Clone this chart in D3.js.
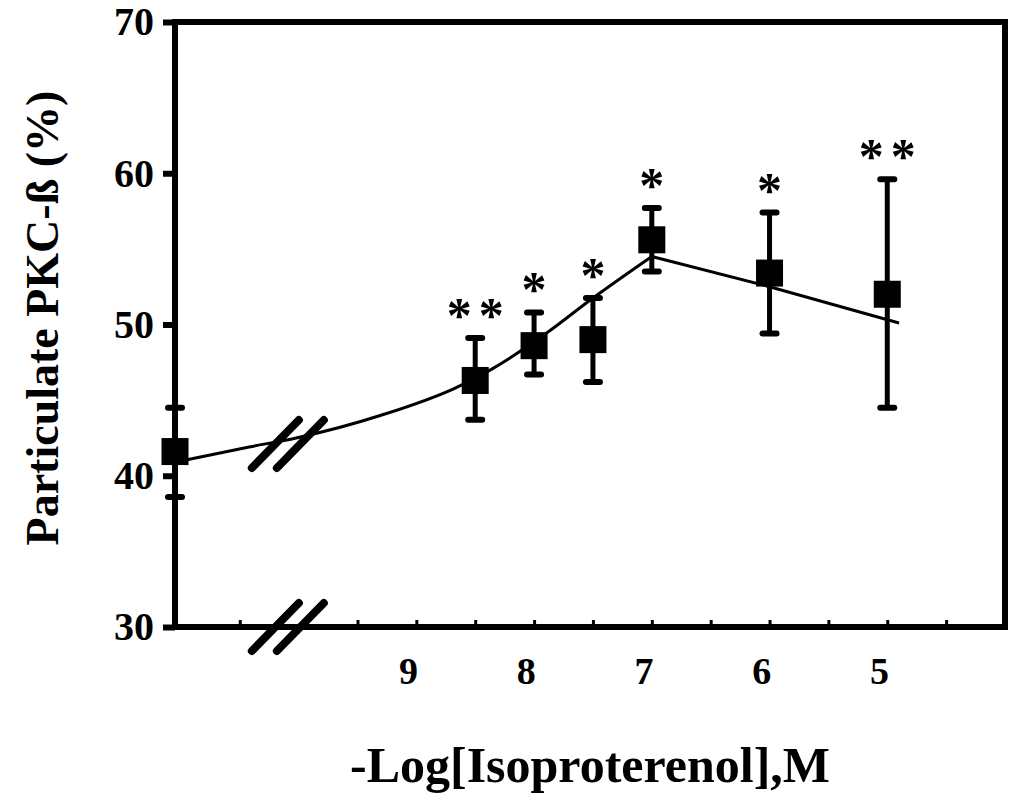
<!DOCTYPE html>
<html>
<head>
<meta charset="utf-8">
<script src="https://cdn.jsdelivr.net/npm/d3@7"></script>
<style>
  body { margin: 0; background: #fff; }
  svg { font-family: "Liberation Serif", "Times New Roman", serif; font-weight: bold; }
</style>
</head>
<body>
<script>
// data
// x = -log[isoproterenol]; control is drawn at the left axis (11.05)
const doses = [11.05, 8.5, 8, 7.5, 7, 6, 5];
const means = [41.6, 46.3, 48.6, 49.0, 55.6, 53.4, 52.0];
const upper = [44.5, 49.1, 50.8, 51.75, 57.7, 57.4, 59.6];
const lower = [38.6, 43.7, 46.7, 46.2, 53.5, 49.4, 44.5];
const stars = ["", "**", "*", "*", "*", "*", "**"];

// fitted curve
const fitX = [11.05, 10.42, 10.02, 9.3, 8.67, 8.37, 7.9, 7.5, 7.0, 6.0, 4.9];
const fitY = [40.9, 41.9, 42.5, 44.0, 45.8, 47.0, 49.4, 51.75, 54.5, 52.5, 50.1];

const yTicks = [30, 40, 50, 60, 70];
const xTicks = [10.5, 9.5, 9, 8.5, 8, 7.5, 7, 6.5, 6, 5.5, 5, 4.5];
const xLabels = [9, 8, 7, 6, 5];
const breakAt = 10.1;

const w = 1013;
const h = 793;
const pLeft = 175, pTop = 22, pRight = 1005, pBottom = 627;

const xScale = d3.scaleLinear().domain([11.05, 4]).range([pLeft, pRight]);
const yScale = d3.scaleLinear().domain([30, 70]).range([pBottom, pTop]);

const svg = d3.select("body").append("svg")
  .attr("width", w)
  .attr("height", h);

// y axis
const yAxis = d3.axisLeft(yScale).tickValues(yTicks).tickSize(12).tickPadding(9);
const gy = svg.append("g")
  .attr("transform", "translate(" + pLeft + ",0)")
  .call(yAxis);
gy.select(".domain").remove();
gy.selectAll(".tick line").attr("stroke-width", 6);
gy.selectAll(".tick text")
  .attr("font-size", 40)
  .attr("font-family", "Liberation Serif")
  .attr("font-weight", "bold")
  .attr("fill", "#000");

// x axis: small inward ticks, labels only on whole numbers
const xAxis = d3.axisBottom(xScale)
  .tickValues(xTicks)
  .tickSize(-7)
  .tickPadding(30)
  .tickFormat(d => xLabels.includes(d) ? d : "");
const gx = svg.append("g")
  .attr("transform", "translate(0," + pBottom + ")")
  .call(xAxis);
gx.select(".domain").remove();
gx.selectAll(".tick line").attr("stroke-width", 3);
gx.selectAll(".tick text")
  .attr("font-size", 38)
  .attr("dx", "-0.22em")
  .attr("font-family", "Liberation Serif")
  .attr("font-weight", "bold")
  .attr("fill", "#000");

// frame
svg.append("rect")
  .attr("x", pLeft).attr("y", pTop)
  .attr("width", pRight - pLeft).attr("height", pBottom - pTop)
  .attr("fill", "none").attr("stroke", "#000").attr("stroke-width", 6);

// fitted curve: smooth rise to the peak at 7, then straight decline
const fit = fitX.map((x, i) => [x, fitY[i]]);
const peak = fitX.indexOf(7.0);
svg.append("path")
  .datum(fit.slice(0, peak + 1))
  .attr("d", d3.line().x(d => xScale(d[0])).y(d => yScale(d[1])).curve(d3.curveMonotoneX))
  .attr("fill", "none").attr("stroke", "#000").attr("stroke-width", 3);
svg.append("path")
  .datum(fit.slice(peak))
  .attr("d", d3.line().x(d => xScale(d[0])).y(d => yScale(d[1])))
  .attr("fill", "none").attr("stroke", "#000").attr("stroke-width", 3);

// axis break marks
function breakMarks(cy) {
  [0, 25].forEach(function (off) {
    svg.append("line")
      .attr("x1", xScale(breakAt) - 35 + off).attr("y1", cy + 24)
      .attr("x2", xScale(breakAt) + 12 + off).attr("y2", cy - 24)
      .attr("stroke", "#000").attr("stroke-width", 8)
      .attr("stroke-linecap", "round");
  });
}
breakMarks(yScale(42.1));
breakMarks(pBottom);

// error bars
const pts = doses.map((d, i) => ({ x: d, m: means[i], hi: upper[i], lo: lower[i], s: stars[i] }));
const g = svg.append("g");
g.selectAll(".err").data(pts).enter().append("line")
  .attr("x1", d => xScale(d.x)).attr("x2", d => xScale(d.x))
  .attr("y1", d => yScale(d.hi)).attr("y2", d => yScale(d.lo))
  .attr("stroke", "#000").attr("stroke-width", 5);
["hi", "lo"].forEach(function (k) {
  g.selectAll(".cap-" + k).data(pts).enter().append("line")
    .attr("x1", d => xScale(d.x) - 7).attr("x2", d => xScale(d.x) + 7)
    .attr("y1", d => yScale(d[k])).attr("y2", d => yScale(d[k]))
    .attr("stroke", "#000").attr("stroke-width", 6)
    .attr("stroke-linecap", "round");
});

// square markers
g.selectAll("rect").data(pts).enter().append("rect")
  .attr("x", d => xScale(d.x) - 13.5)
  .attr("y", d => yScale(d.m) - 13.5)
  .attr("width", 27).attr("height", 27)
  .attr("fill", "#000");

// significance stars
g.selectAll(".star").data(pts.filter(d => d.s)).enter().append("text")
  .attr("x", d => xScale(d.x))
  .attr("dx", d => d.s.length > 1 ? 3.5 : 0)
  .attr("y", d => yScale(d.hi) - 6)
  .attr("text-anchor", "middle")
  .attr("font-size", 50)
  .attr("letter-spacing", d => d.s.length > 1 ? 7 : 0)
  .text(d => d.s);

// axis titles
svg.append("text")
  .attr("x", 590).attr("y", 782)
  .attr("text-anchor", "middle")
  .attr("font-size", 50)
  .text("-Log[Isoproterenol],M");

svg.append("text")
  .attr("transform", "translate(58,318) rotate(-90)")
  .attr("text-anchor", "middle")
  .attr("font-size", 46)
  .text("Particulate PKC-ß (%)");
</script>
</body>
</html>
